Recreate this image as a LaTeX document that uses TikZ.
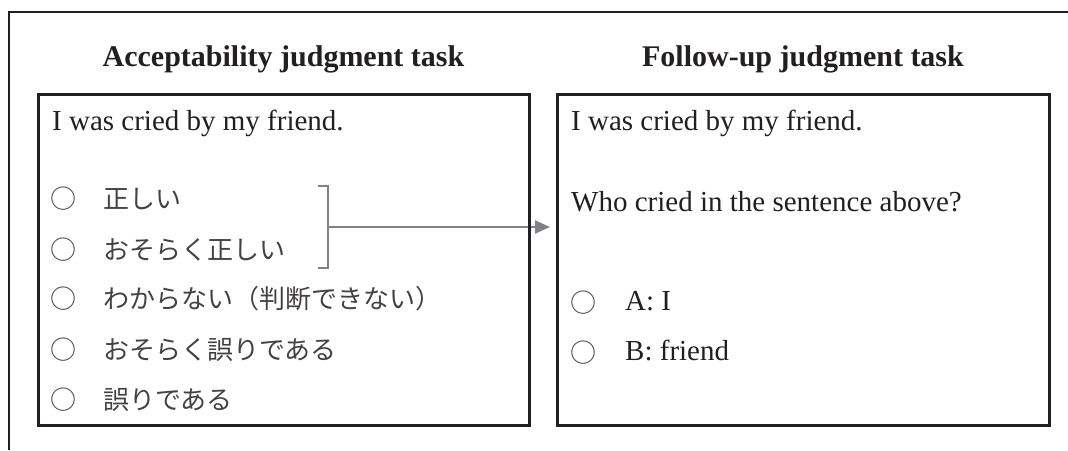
\documentclass[tikz,border=0pt]{standalone}
\usepackage{fontspec}
\setmainfont{Liberation Serif}
\newfontfamily\jp{Noto Sans CJK JP}
\usetikzlibrary{arrows.meta}
\definecolor{ink}{HTML}{231F20}
\definecolor{graybr}{HTML}{808285}
\begin{document}
\begin{tikzpicture}[x=1pt,y=-1pt,
  frame/.style={draw=ink,line width=2.6pt},
  title/.style={inner sep=0,anchor=base,font=\fontsize{30}{34}\selectfont\bfseries,text=ink},
  body/.style={inner sep=0,anchor=base west,font=\fontsize{29}{34}\selectfont,text=ink},
  jtext/.style={inner sep=0,anchor=base west,font=\jp\fontsize{26}{30}\selectfont,text=ink!85},
  brk/.style={draw=graybr,line width=2pt}]
\useasboundingbox (0,0) rectangle (1068,450);
% outer frame (top and left only)
\coordinate (fa) at (9,450);
\coordinate (fb) at (9,12);
\coordinate (fc) at (1068,12);
\draw[frame] (fa) -- (fb) -- (fc);
% titles
\node[title] (t1) at (283.5,66) {Acceptability judgment task};
\node[title] (t2) at (803,66) {Follow-up judgment task};
% bracket and arrow
\coordinate (bt) at (318,186);
\coordinate (btv) at (328,186);
\coordinate (bb) at (318,268);
\coordinate (bbv) at (328,268);
\coordinate (bm) at (328,227);
\coordinate (tip) at (550,227);
\draw[brk] (bt) -- (btv) -- (bbv) -- (bb);
\draw[brk,-{Triangle[length=15pt,width=13pt]}] (bm) -- (tip);
% boxes
\node[frame,inner sep=0,anchor=north west,minimum width=491pt,minimum height=331pt] (lbox) at (37,93) {};
\node[frame,inner sep=0,anchor=north west,minimum width=492pt,minimum height=331pt] (rbox) at (556,93) {};
% left box content
\node[body] (l0) at (52,130) {I was cried by my friend.};
\node[jtext] (c1) at (50.5,208) {○};
\node[jtext] (j1) at (103,208) {正しい};
\node[jtext] (c2) at (50.5,259) {○};
\node[jtext] (j2) at (103,259) {おそらく正しい};
\node[jtext] (c3) at (50.5,308) {○};
\node[jtext] (j3) at (103,308) {わからない（判断できない）};
\node[jtext] (c4) at (50.5,359) {○};
\node[jtext] (j4) at (103,359) {おそらく誤りである};
\node[jtext] (c5) at (50.5,409) {○};
\node[jtext] (j5) at (103,409) {誤りである};
% right box content
\node[body] (r0) at (571,130) {I was cried by my friend.};
\node[body] (r1) at (571,211) {Who cried in the sentence above?};
\node[jtext] (ca) at (570.5,312) {○};
\node[body] (ra) at (625,310) {A: I};
\node[jtext] (cb) at (570.5,362) {○};
\node[body] (rb) at (625,360) {B: friend};
\end{tikzpicture}
\end{document}
